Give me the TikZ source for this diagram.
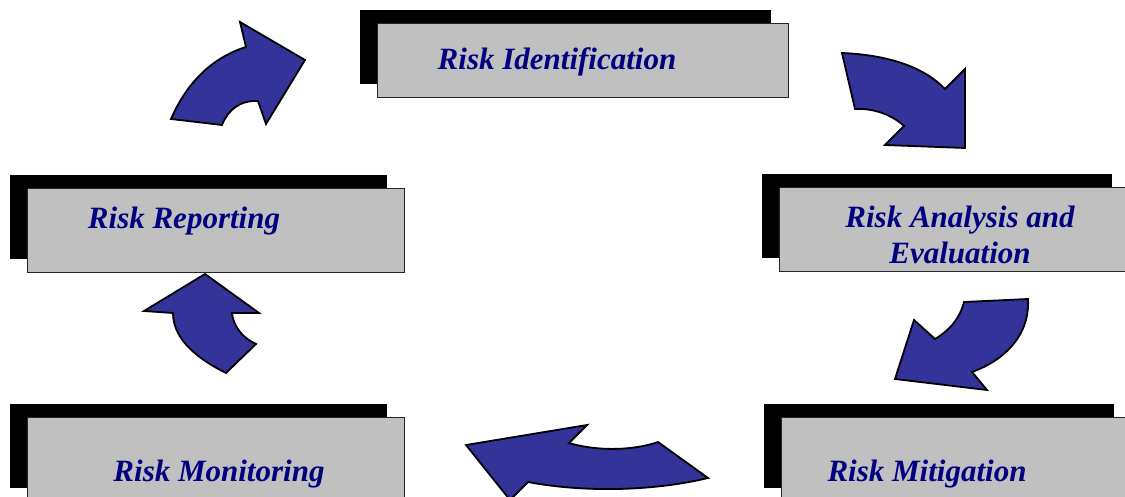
\documentclass[tikz,border=0pt]{standalone}
\usepackage{fontspec}
\setmainfont{Liberation Serif}
\usetikzlibrary{shadows}
\definecolor{boxgray}{HTML}{C0C0C0}
\definecolor{arrowblue}{HTML}{333399}
\definecolor{textnavy}{HTML}{000080}

\begin{document}
\begin{tikzpicture}
[x=1pt, y=-1pt,
 box/.style={rectangle, draw=black!85, line width=1.4pt, fill=boxgray, anchor=north west,
   minimum height=84pt, inner sep=0pt,
   general shadow={fill=black, shadow xshift=-18pt, shadow yshift=14pt}},
 lbl/.style={anchor=base, text=textnavy, font=\fontsize{31}{36}\selectfont\bfseries\itshape,
   align=center, inner sep=0pt},
 blk/.style={fill=arrowblue, draw=black, line width=1.8pt, line join=miter}]
\useasboundingbox (0,0) rectangle (1125,497);

% boxes
\node [box, minimum width=411pt, minimum height=74pt] (ident) at (377,23) {};
\node [box, minimum width=377pt] (report) at (27,188) {};
\node [box, minimum width=350pt] (anal) at (779,187) {};
\node [box, minimum width=377pt] (monit) at (27,417) {};
\node [box, minimum width=350pt] (mitig) at (781,417) {};

% texts
\node [lbl] (identtxt) at (557,70) {Risk Identification};
\node [lbl] (reporttxt) at (184,229) {Risk Reporting};
\node [lbl] (analtxt) at (960,264) {Risk Analysis and\\Evaluation};
\node [lbl] (monittxt) at (219,481) {Risk Monitoring};
\node [lbl] (mitigtxt) at (927,481) {Risk Mitigation};

% curved block arrows
\draw [blk] (171,119) .. controls (190,75) and (220,55) .. (246,47) -- (240,22) -- (305,60)
  -- (266,124) -- (258,101) .. controls (240,100) and (228,110) .. (222,125) -- cycle;
\draw [blk] (842,53) .. controls (890,55) and (925,68) .. (945,89) -- (965,69) -- (965,148)
  -- (885,145) -- (904,126) .. controls (890,113) and (870,108) .. (855,109) -- cycle;
\draw [blk] (964,302) -- (1028,299) .. controls (1030,335) and (1005,360) .. (972,372)
  -- (987,390) -- (895,379) -- (914,320) -- (935,339) .. controls (950,330) and (960,318) .. (964,302) -- cycle;
\draw [blk] (658,442) -- (708,478) .. controls (650,492) and (580,492) .. (528,482)
  -- (510,500) -- (466,445) -- (587,425) -- (569,443) .. controls (600,452) and (635,450) .. (658,442) -- cycle;
\draw [blk] (205,274) -- (259,313) -- (232,313) .. controls (233,325) and (242,338) .. (256,344)
  -- (226,373) .. controls (190,355) and (173,335) .. (173,313) -- (144,311) -- cycle;
\end{tikzpicture}
\end{document}
